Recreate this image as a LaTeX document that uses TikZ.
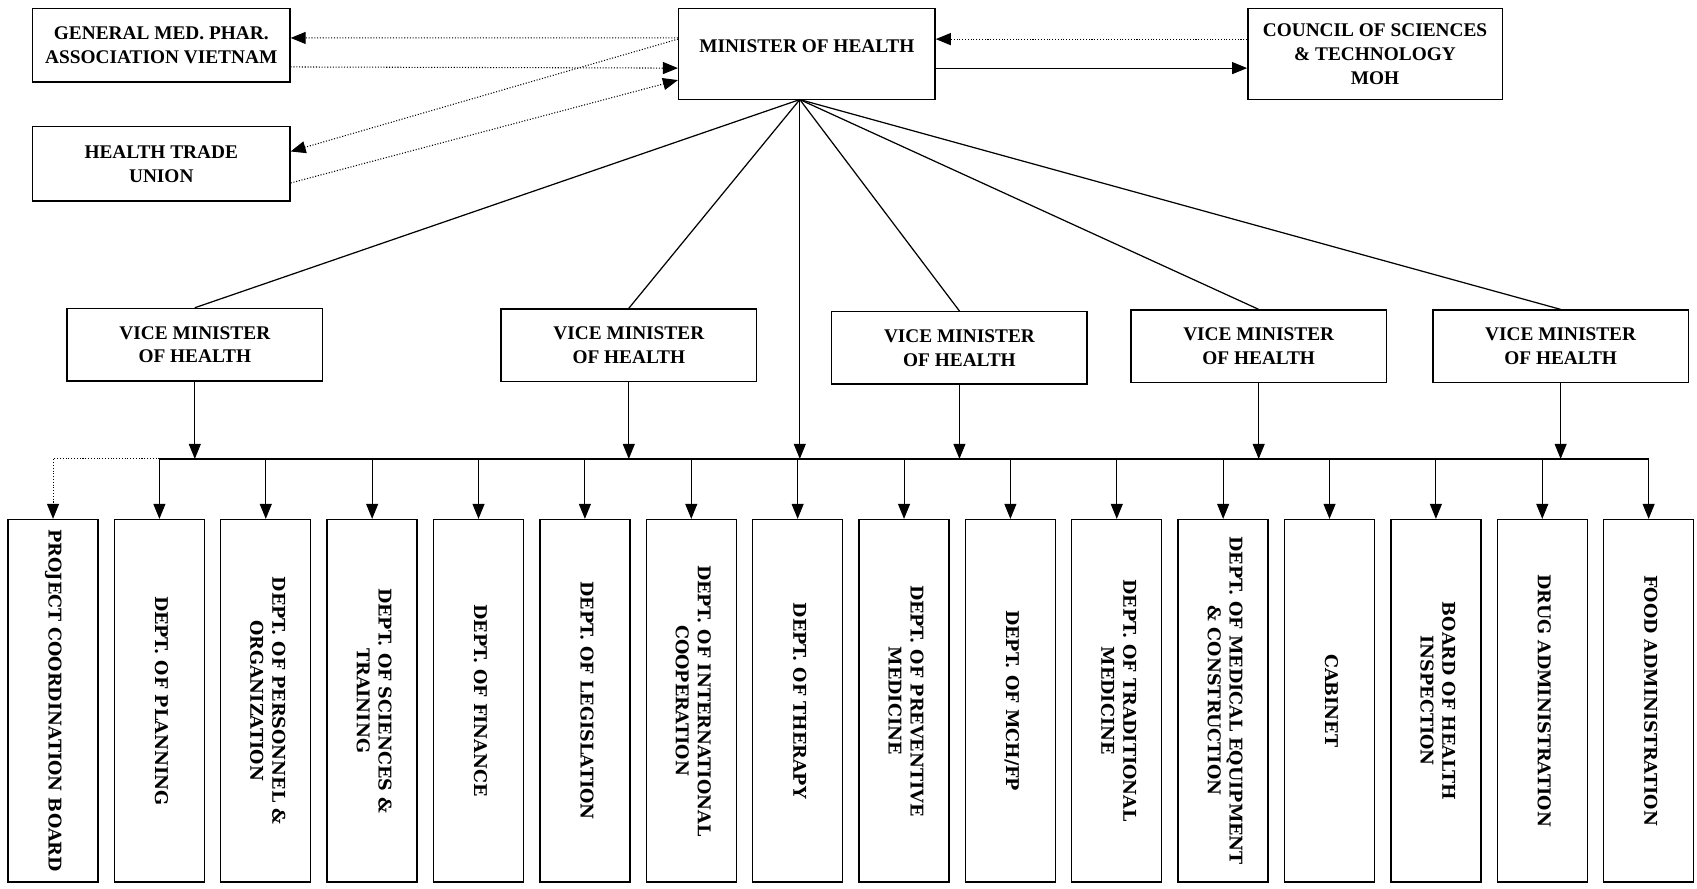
\documentclass[tikz,border=0pt]{standalone}
\usepackage{fontspec}
\usepackage{graphicx}
\setmainfont{Liberation Serif}
\newfontfamily\deptfamily{DejaVu Serif}
\usetikzlibrary{arrows.meta,positioning}
\newcommand{\vtext}[1]{\rotatebox{-90}{\begin{tabular}{@{}c@{}}#1\end{tabular}}}
\tikzset{
  bx/.style={draw, line width=0.8pt, fill=white, align=center, inner sep=2pt, font=\fontsize{11}{13.5}\selectfont\bfseries},
  org/.style={bx, minimum width=5.15cm, minimum height=1.47cm},
  chief/.style={bx, minimum width=5.13cm, minimum height=1.82cm},
  vice/.style={bx, minimum width=5.11cm, minimum height=1.45cm},
  dept/.style={draw, line width=0.8pt, minimum width=1.8cm, minimum height=7.25cm, inner sep=1pt, font=\deptfamily\fontsize{10}{12.5}\selectfont\bfseries},
  arr/.style={-{Triangle[length=3mm, width=2.4mm]}, line width=0.6pt},
  dotarr/.style={arr, densely dotted},
  fan/.style={line width=0.7pt},
  bus/.style={line width=1.1pt},
}
\begin{document}
\begin{tikzpicture}[x=0.021646cm, y=-0.021646cm, node distance=3mm]
  \useasboundingbox (0,0) rectangle (1568,821);
  \node[org] (gen) at (149,42) {GENERAL MED. PHAR.\\ASSOCIATION VIETNAM};
  \node[org, minimum height=1.49cm] (ht) at (149,151.5) {HEALTH TRADE\\UNION};
  \node[chief, text depth=0.34cm] (min) at (745.5,50) {MINISTER OF HEALTH};
  \node[chief, minimum width=5.09cm] (coun) at (1270.5,50) {COUNCIL OF SCIENCES\\\& TECHNOLOGY\\MOH};
  \node[vice] (vm1) at (180,318.5) {VICE MINISTER\\OF HEALTH};
  \node[vice] (vm2) at (581,319) {VICE MINISTER\\OF HEALTH};
  \node[vice] (vm3) at (886.5,321.5) {VICE MINISTER\\OF HEALTH};
  \node[vice] (vm4) at (1163,320) {VICE MINISTER\\OF HEALTH};
  \node[vice] (vm5) at (1442,320) {VICE MINISTER\\OF HEALTH};
  \node[dept] (d1) at (49,647.5) {\vtext{PROJECT COORDINATION BOARD}};
  \node[dept, right=of d1] (d2) {\vtext{DEPT. OF PLANNING}};
  \node[dept, right=of d2] (d3) {\vtext{DEPT. OF PERSONNEL \&\\ORGANIZATION}};
  \node[dept, right=of d3] (d4) {\vtext{DEPT. OF SCIENCES \&\\TRAINING}};
  \node[dept, right=of d4] (d5) {\vtext{DEPT. OF FINANCE}};
  \node[dept, right=of d5] (d6) {\vtext{DEPT. OF LEGISLATION}};
  \node[dept, right=of d6] (d7) {\vtext{DEPT. OF INTERNATIONAL\\COOPERATION}};
  \node[dept, right=of d7] (d8) {\vtext{DEPT. OF THERAPY}};
  \node[dept, right=of d8] (d9) {\vtext{DEPT. OF PREVENTIVE\\MEDICINE}};
  \node[dept, right=of d9] (d10) {\vtext{DEPT. OF MCH/FP}};
  \node[dept, right=of d10] (d11) {\vtext{DEPT. OF TRADITIONAL\\MEDICINE}};
  \node[dept, right=of d11] (d12) {\vtext{DEPT. OF MEDICAL EQUIPMENT\\\& CONSTRUCTION}};
  \node[dept, right=of d12] (d13) {\vtext{CABINET}};
  \node[dept, right=of d13] (d14) {\vtext{BOARD OF HEALTH\\INSPECTION}};
  \node[dept, right=of d14] (d15) {\vtext{DRUG ADMINISTRATION}};
  \node[dept, right=of d15] (d16) {\vtext{FOOD ADMINISTRATION}};
  \coordinate (hub) at (739,92);
  \coordinate (busL) at (148,424);
  \draw[dotarr] ([yshift=0.325cm]min.west) -- ([yshift=0.15cm]gen.east); \draw[dotarr] ([yshift=-0.43cm]gen.east) -- ([yshift=-0.28cm]min.west);
  \draw[dotarr] ([yshift=0.30cm]min.west) -- ([yshift=0.25cm]ht.east); \draw[dotarr] ([yshift=-0.38cm]ht.east) -- ([yshift=-0.52cm]min.west);
  \draw[dotarr] ([yshift=0.30cm]coun.west) -- ([yshift=0.30cm]min.east); \draw[arr] ([yshift=-0.28cm]min.east) -- ([yshift=-0.28cm]coun.west);
  \draw[fan] (hub) -- (vm1.north); \draw[fan] (hub) -- (vm2.north); \draw[fan] (hub) -- (vm3.north);
  \draw[fan] (hub) -- (vm4.north); \draw[fan] (hub) -- (vm5.north);
  \draw[arr] (hub) -- (hub |- busL);
  \draw[arr] (vm1.south) -- (vm1.south |- busL); \draw[arr] (vm2.south) -- (vm2.south |- busL); \draw[arr] (vm3.south) -- (vm3.south |- busL);
  \draw[arr] (vm4.south) -- (vm4.south |- busL); \draw[arr] (vm5.south) -- (vm5.south |- busL);
  \draw[bus] (d2.north |- busL) -- (d16.north |- busL);
  \draw[dotarr] (d2.north |- busL) -| (d1.north);
  \draw[arr] (d2.north |- busL) -- (d2.north); \draw[arr] (d3.north |- busL) -- (d3.north); \draw[arr] (d4.north |- busL) -- (d4.north);
  \draw[arr] (d5.north |- busL) -- (d5.north); \draw[arr] (d6.north |- busL) -- (d6.north); \draw[arr] (d7.north |- busL) -- (d7.north);
  \draw[arr] (d8.north |- busL) -- (d8.north); \draw[arr] (d9.north |- busL) -- (d9.north); \draw[arr] (d10.north |- busL) -- (d10.north);
  \draw[arr] (d11.north |- busL) -- (d11.north); \draw[arr] (d12.north |- busL) -- (d12.north); \draw[arr] (d13.north |- busL) -- (d13.north);
  \draw[arr] (d14.north |- busL) -- (d14.north); \draw[arr] (d15.north |- busL) -- (d15.north); \draw[arr] (d16.north |- busL) -- (d16.north);
\end{tikzpicture}
\end{document}
